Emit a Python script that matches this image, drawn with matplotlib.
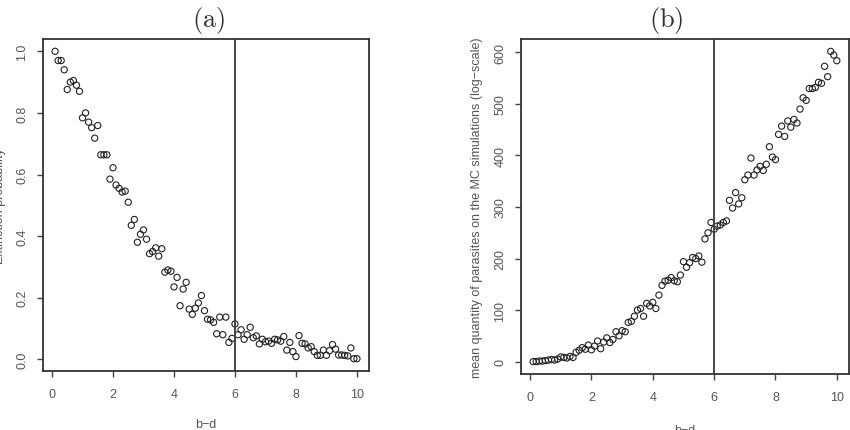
import numpy as np
import matplotlib
matplotlib.use("Agg")
import matplotlib.pyplot as plt

plt.rcParams['font.family'] = ['Liberation Sans', 'DejaVu Sans']
plt.rcParams['mathtext.fontset'] = 'cm'

# b - d values (0.1 .. 10 in steps of 0.1)
bd = [round(0.1 * i, 1) for i in range(1, 101)]

# panel (a): extinction probability
ext_prob = [
    1.0, 0.97, 0.97, 0.94, 0.876, 0.90, 0.905, 0.89, 0.87, 0.784,
    0.80, 0.77, 0.752, 0.718, 0.759, 0.664, 0.664, 0.664, 0.585, 0.622,
    0.566, 0.555, 0.543, 0.546, 0.51, 0.435, 0.454, 0.38, 0.406, 0.42,
    0.39, 0.343, 0.35, 0.362, 0.335, 0.359, 0.283, 0.29, 0.286, 0.235,
    0.266, 0.174, 0.228, 0.25, 0.163, 0.146, 0.166, 0.183, 0.207, 0.158,
    0.13, 0.128, 0.12, 0.083, 0.137, 0.08, 0.137, 0.055, 0.068, 0.115,
    0.08, 0.096, 0.065, 0.08, 0.104, 0.07, 0.076, 0.05, 0.065, 0.057,
    0.059, 0.052, 0.065, 0.063, 0.059, 0.074, 0.03, 0.055, 0.025, 0.009,
    0.077, 0.052, 0.05, 0.037, 0.041, 0.025, 0.013, 0.013, 0.03, 0.013,
    0.028, 0.048, 0.033, 0.014, 0.014, 0.013, 0.011, 0.037, 0.002, 0.002,
]

# panel (b): mean quantity of parasites
mean_parasites = [
    0, 0, 1, 1, 2, 3, 4, 3, 5, 9,
    8, 7, 10, 8, 18, 22, 27, 24, 32, 23,
    30, 40, 25, 38, 46, 37, 43, 58, 50, 60,
    58, 76, 78, 88, 100, 103, 88, 113, 108, 115,
    103, 129, 148, 156, 158, 163, 157, 155, 168, 194,
    183, 192, 202, 200, 205, 193, 238, 250, 270, 257,
    263, 265, 270, 273, 313, 298, 328, 306, 318, 353,
    362, 395, 362, 372, 379, 371, 383, 417, 397, 392,
    441, 457, 437, 467, 455, 470, 463, 490, 512, 507,
    530, 530, 532, 542, 540, 573, 553, 602, 595, 584,
]

threshold = 6

W, H = 850, 431
fig = plt.figure(figsize=(W / 100, H / 100), dpi=100)


def r_style(ax, ydata):
    x0, x1 = min(bd), max(bd)
    y0, y1 = min(ydata), max(ydata)
    ax.set_xlim(x0 - 0.04 * (x1 - x0), x1 + 0.04 * (x1 - x0))
    ax.set_ylim(y0 - 0.04 * (y1 - y0), y1 + 0.04 * (y1 - y0))
    for s in ax.spines.values():
        s.set_color('#333333')
        s.set_linewidth(1.3)
    ax.tick_params(direction='out', length=4.5, width=1.0, color='#444444',
                   labelsize=9, labelcolor='#555555', pad=8)
    ax.tick_params(axis='y', pad=6)
    ax.set_xticks([0, 2, 4, 6, 8, 10])
    for lab in ax.get_yticklabels():
        lab.set_rotation(90)
        lab.set_va('center')


# (a)
ax1 = fig.add_axes([43 / W, 1 - 372 / H, 326 / W, 332 / H])
ax1.scatter(bd, ext_prob, s=20, facecolors='none', edgecolors='#222222', linewidths=0.8)
ax1.axvline(threshold, color='#444444', lw=1.4)
r_style(ax1, ext_prob)
ax1.set_yticks([0.0, 0.2, 0.4, 0.6, 0.8, 1.0])
ax1.set_yticklabels(['0.0', '0.2', '0.4', '0.6', '0.8', '1.0'], rotation=90, va='center')
fig.text(209 / W, 1 - 20 / H, r'$\mathrm{(a)}$', ha='center', va='center', fontsize=19, color='#333333')
fig.text(206 / W, 1 - 425 / H, 'b\u2212d', ha='center', va='center', fontsize=9, color='#555555')
fig.text(0 / W, 1 - 206 / H, 'Extinction probability', ha='center', va='center',
         rotation=90, fontsize=9, color='#555555')

# (b)
ax2 = fig.add_axes([521 / W, 1 - 375 / H, 328 / W, 335 / H])
ax2.scatter(bd, mean_parasites, s=20, facecolors='none', edgecolors='#222222', linewidths=0.8)
ax2.axvline(threshold, color='#444444', lw=1.4)
r_style(ax2, mean_parasites)
ax2.set_yticks([0, 100, 200, 300, 400, 500, 600])
ax2.set_yticklabels(['0', '100', '200', '300', '400', '500', '600'], rotation=90, va='center')
fig.text(666 / W, 1 - 20 / H, r'$\mathrm{(b)}$', ha='center', va='center', fontsize=19, color='#333333')
fig.text(685 / W, 1 - 431 / H, 'b\u2212d', ha='center', va='center', fontsize=9, color='#555555')
fig.text(477 / W, 1 - 208 / H, 'mean quantity of parasites on the MC simulations (log\u2212scale)',
         ha='center', va='center', rotation=90, fontsize=9, color='#555555')

fig.savefig('out.png', dpi=100)
